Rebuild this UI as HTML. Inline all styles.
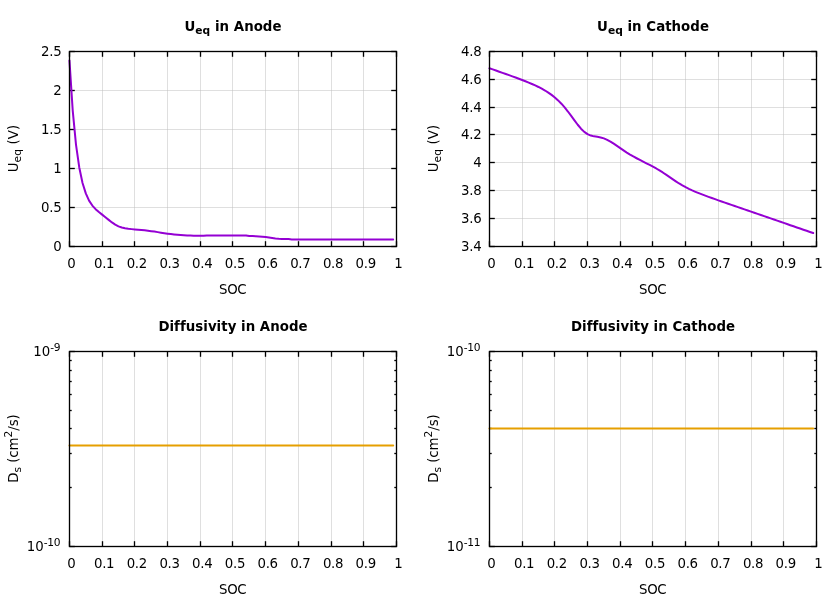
<!DOCTYPE html>
<html><head><meta charset="utf-8"><title>plots</title>
<style>
html,body{margin:0;padding:0;background:#fff;}
svg{display:block;}
text{font-family:"DejaVu Sans", "Liberation Sans", sans-serif;font-size:13.33px;fill:#000;}
.n{letter-spacing:-0.3px;}
.s{letter-spacing:-0.3px;}
.yl{letter-spacing:0.12px;}
.yd{letter-spacing:-0.05px;}
.tt{font-weight:bold;letter-spacing:0.04px;}
.g{stroke:#c0c0c0;stroke-width:1;stroke-opacity:0.5;}
.t{stroke:#000;stroke-width:1.33;}
.b{fill:none;stroke:#000;stroke-width:1.33;}
</style></head><body>
<svg width="840" height="600" viewBox="0 0 840 600">
<rect width="840" height="600" fill="#fff"/>
<line x1="102.50" y1="51.5" x2="102.50" y2="246.5" class="g"/>
<line x1="134.50" y1="51.5" x2="134.50" y2="246.5" class="g"/>
<line x1="167.50" y1="51.5" x2="167.50" y2="246.5" class="g"/>
<line x1="200.50" y1="51.5" x2="200.50" y2="246.5" class="g"/>
<line x1="232.50" y1="51.5" x2="232.50" y2="246.5" class="g"/>
<line x1="265.50" y1="51.5" x2="265.50" y2="246.5" class="g"/>
<line x1="298.50" y1="51.5" x2="298.50" y2="246.5" class="g"/>
<line x1="331.50" y1="51.5" x2="331.50" y2="246.5" class="g"/>
<line x1="363.50" y1="51.5" x2="363.50" y2="246.5" class="g"/>
<line x1="69.5" y1="207.50" x2="396.5" y2="207.50" class="g"/>
<line x1="69.5" y1="168.50" x2="396.5" y2="168.50" class="g"/>
<line x1="69.5" y1="129.50" x2="396.5" y2="129.50" class="g"/>
<line x1="69.5" y1="90.50" x2="396.5" y2="90.50" class="g"/>
<line x1="69.50" y1="246.5" x2="69.50" y2="241.2" class="t"/>
<line x1="69.50" y1="51.5" x2="69.50" y2="56.8" class="t"/>
<text x="71.45" y="268.00" text-anchor="middle" class="n">0</text>
<line x1="102.50" y1="246.5" x2="102.50" y2="241.2" class="t"/>
<line x1="102.50" y1="51.5" x2="102.50" y2="56.8" class="t"/>
<text x="104.15" y="268.00" text-anchor="middle" class="n">0.1</text>
<line x1="134.50" y1="246.5" x2="134.50" y2="241.2" class="t"/>
<line x1="134.50" y1="51.5" x2="134.50" y2="56.8" class="t"/>
<text x="136.85" y="268.00" text-anchor="middle" class="n">0.2</text>
<line x1="167.50" y1="246.5" x2="167.50" y2="241.2" class="t"/>
<line x1="167.50" y1="51.5" x2="167.50" y2="56.8" class="t"/>
<text x="169.55" y="268.00" text-anchor="middle" class="n">0.3</text>
<line x1="200.50" y1="246.5" x2="200.50" y2="241.2" class="t"/>
<line x1="200.50" y1="51.5" x2="200.50" y2="56.8" class="t"/>
<text x="202.25" y="268.00" text-anchor="middle" class="n">0.4</text>
<line x1="232.50" y1="246.5" x2="232.50" y2="241.2" class="t"/>
<line x1="232.50" y1="51.5" x2="232.50" y2="56.8" class="t"/>
<text x="234.95" y="268.00" text-anchor="middle" class="n">0.5</text>
<line x1="265.50" y1="246.5" x2="265.50" y2="241.2" class="t"/>
<line x1="265.50" y1="51.5" x2="265.50" y2="56.8" class="t"/>
<text x="267.65" y="268.00" text-anchor="middle" class="n">0.6</text>
<line x1="298.50" y1="246.5" x2="298.50" y2="241.2" class="t"/>
<line x1="298.50" y1="51.5" x2="298.50" y2="56.8" class="t"/>
<text x="300.35" y="268.00" text-anchor="middle" class="n">0.7</text>
<line x1="331.50" y1="246.5" x2="331.50" y2="241.2" class="t"/>
<line x1="331.50" y1="51.5" x2="331.50" y2="56.8" class="t"/>
<text x="333.05" y="268.00" text-anchor="middle" class="n">0.8</text>
<line x1="363.50" y1="246.5" x2="363.50" y2="241.2" class="t"/>
<line x1="363.50" y1="51.5" x2="363.50" y2="56.8" class="t"/>
<text x="365.75" y="268.00" text-anchor="middle" class="n">0.9</text>
<line x1="396.50" y1="246.5" x2="396.50" y2="241.2" class="t"/>
<line x1="396.50" y1="51.5" x2="396.50" y2="56.8" class="t"/>
<text x="398.45" y="268.00" text-anchor="middle" class="n">1</text>
<line x1="69.5" y1="246.50" x2="74.8" y2="246.50" class="t"/>
<line x1="396.5" y1="246.50" x2="391.2" y2="246.50" class="t"/>
<text x="61.40" y="251.40" text-anchor="end" class="n">0</text>
<line x1="69.5" y1="207.50" x2="74.8" y2="207.50" class="t"/>
<line x1="396.5" y1="207.50" x2="391.2" y2="207.50" class="t"/>
<text x="61.40" y="212.40" text-anchor="end" class="n">0.5</text>
<line x1="69.5" y1="168.50" x2="74.8" y2="168.50" class="t"/>
<line x1="396.5" y1="168.50" x2="391.2" y2="168.50" class="t"/>
<text x="61.40" y="173.40" text-anchor="end" class="n">1</text>
<line x1="69.5" y1="129.50" x2="74.8" y2="129.50" class="t"/>
<line x1="396.5" y1="129.50" x2="391.2" y2="129.50" class="t"/>
<text x="61.40" y="134.40" text-anchor="end" class="n">1.5</text>
<line x1="69.5" y1="90.50" x2="74.8" y2="90.50" class="t"/>
<line x1="396.5" y1="90.50" x2="391.2" y2="90.50" class="t"/>
<text x="61.40" y="95.40" text-anchor="end" class="n">2</text>
<line x1="69.5" y1="51.50" x2="74.8" y2="51.50" class="t"/>
<line x1="396.5" y1="51.50" x2="391.2" y2="51.50" class="t"/>
<text x="61.40" y="56.40" text-anchor="end" class="n">2.5</text>
<text x="233.00" y="31.00" text-anchor="middle" class="tt">U<tspan dy="3" font-size="10.67">eq</tspan><tspan dy="-3"> in Anode</tspan></text>
<text x="232.70" y="293.50" text-anchor="middle" class="s">SOC</text>
<text transform="translate(18.00,148.50) rotate(-90)" text-anchor="middle" class="yl">U<tspan dy="3" font-size="10.67">eq</tspan><tspan dy="-3"> (V)</tspan></text>
<polyline points="69.45,60.43 72.72,110.68 75.99,144.58 79.26,167.47 82.53,182.94 85.80,193.42 89.07,200.58 92.34,205.57 95.61,209.19 98.88,212.07 102.15,214.64 105.42,217.22 108.69,219.87 111.96,222.44 115.23,224.64 118.50,226.32 121.77,227.48 125.04,228.25 128.31,228.76 131.58,229.13 134.85,229.43 138.12,229.70 141.39,230.00 144.66,230.33 147.93,230.71 151.20,231.14 154.47,231.61 157.74,232.12 161.01,232.64 164.28,233.15 167.55,233.64 170.82,234.08 174.09,234.46 177.36,234.78 180.63,235.05 183.90,235.27 187.17,235.43 190.44,235.57 193.71,235.67 196.98,235.74 200.25,235.80 203.52,235.85 206.79,235.50 210.06,235.50 213.33,235.50 216.60,235.50 219.87,235.50 223.14,235.50 226.41,235.50 229.68,235.50 232.95,235.50 236.22,235.50 239.49,235.50 242.76,235.50 246.03,235.50 249.30,236.05 252.57,236.12 255.84,236.23 259.11,236.41 262.38,236.69 265.65,237.09 268.92,237.56 272.19,238.03 275.46,238.43 278.73,238.72 282.00,238.91 285.27,239.02 288.54,239.09 291.81,239.50 295.08,239.50 298.35,239.50 301.62,239.50 304.89,239.50 308.16,239.50 311.43,239.50 314.70,239.50 317.97,239.50 321.24,239.50 324.51,239.50 327.78,239.50 331.05,239.50 334.32,239.50 337.59,239.50 340.86,239.50 344.13,239.50 347.40,239.50 350.67,239.50 353.94,239.50 357.21,239.50 360.48,239.50 363.75,239.50 367.02,239.50 370.29,239.50 373.56,239.50 376.83,239.50 380.10,239.50 383.37,239.50 386.64,239.50 389.91,239.50 393.18,239.50" fill="none" stroke="#9400d3" stroke-width="2" stroke-linejoin="round" stroke-linecap="round"/>
<rect x="69.5" y="51.5" width="327.0" height="195.0" class="b"/>
<line x1="522.50" y1="51.5" x2="522.50" y2="246.5" class="g"/>
<line x1="554.50" y1="51.5" x2="554.50" y2="246.5" class="g"/>
<line x1="587.50" y1="51.5" x2="587.50" y2="246.5" class="g"/>
<line x1="620.50" y1="51.5" x2="620.50" y2="246.5" class="g"/>
<line x1="652.50" y1="51.5" x2="652.50" y2="246.5" class="g"/>
<line x1="685.50" y1="51.5" x2="685.50" y2="246.5" class="g"/>
<line x1="718.50" y1="51.5" x2="718.50" y2="246.5" class="g"/>
<line x1="751.50" y1="51.5" x2="751.50" y2="246.5" class="g"/>
<line x1="783.50" y1="51.5" x2="783.50" y2="246.5" class="g"/>
<line x1="489.5" y1="218.50" x2="816.5" y2="218.50" class="g"/>
<line x1="489.5" y1="190.50" x2="816.5" y2="190.50" class="g"/>
<line x1="489.5" y1="162.50" x2="816.5" y2="162.50" class="g"/>
<line x1="489.5" y1="134.50" x2="816.5" y2="134.50" class="g"/>
<line x1="489.5" y1="107.50" x2="816.5" y2="107.50" class="g"/>
<line x1="489.5" y1="79.50" x2="816.5" y2="79.50" class="g"/>
<line x1="489.50" y1="246.5" x2="489.50" y2="241.2" class="t"/>
<line x1="489.50" y1="51.5" x2="489.50" y2="56.8" class="t"/>
<text x="491.45" y="268.00" text-anchor="middle" class="n">0</text>
<line x1="522.50" y1="246.5" x2="522.50" y2="241.2" class="t"/>
<line x1="522.50" y1="51.5" x2="522.50" y2="56.8" class="t"/>
<text x="524.15" y="268.00" text-anchor="middle" class="n">0.1</text>
<line x1="554.50" y1="246.5" x2="554.50" y2="241.2" class="t"/>
<line x1="554.50" y1="51.5" x2="554.50" y2="56.8" class="t"/>
<text x="556.85" y="268.00" text-anchor="middle" class="n">0.2</text>
<line x1="587.50" y1="246.5" x2="587.50" y2="241.2" class="t"/>
<line x1="587.50" y1="51.5" x2="587.50" y2="56.8" class="t"/>
<text x="589.55" y="268.00" text-anchor="middle" class="n">0.3</text>
<line x1="620.50" y1="246.5" x2="620.50" y2="241.2" class="t"/>
<line x1="620.50" y1="51.5" x2="620.50" y2="56.8" class="t"/>
<text x="622.25" y="268.00" text-anchor="middle" class="n">0.4</text>
<line x1="652.50" y1="246.5" x2="652.50" y2="241.2" class="t"/>
<line x1="652.50" y1="51.5" x2="652.50" y2="56.8" class="t"/>
<text x="654.95" y="268.00" text-anchor="middle" class="n">0.5</text>
<line x1="685.50" y1="246.5" x2="685.50" y2="241.2" class="t"/>
<line x1="685.50" y1="51.5" x2="685.50" y2="56.8" class="t"/>
<text x="687.65" y="268.00" text-anchor="middle" class="n">0.6</text>
<line x1="718.50" y1="246.5" x2="718.50" y2="241.2" class="t"/>
<line x1="718.50" y1="51.5" x2="718.50" y2="56.8" class="t"/>
<text x="720.35" y="268.00" text-anchor="middle" class="n">0.7</text>
<line x1="751.50" y1="246.5" x2="751.50" y2="241.2" class="t"/>
<line x1="751.50" y1="51.5" x2="751.50" y2="56.8" class="t"/>
<text x="753.05" y="268.00" text-anchor="middle" class="n">0.8</text>
<line x1="783.50" y1="246.5" x2="783.50" y2="241.2" class="t"/>
<line x1="783.50" y1="51.5" x2="783.50" y2="56.8" class="t"/>
<text x="785.75" y="268.00" text-anchor="middle" class="n">0.9</text>
<line x1="816.50" y1="246.5" x2="816.50" y2="241.2" class="t"/>
<line x1="816.50" y1="51.5" x2="816.50" y2="56.8" class="t"/>
<text x="818.45" y="268.00" text-anchor="middle" class="n">1</text>
<line x1="489.5" y1="246.50" x2="494.8" y2="246.50" class="t"/>
<line x1="816.5" y1="246.50" x2="811.2" y2="246.50" class="t"/>
<text x="481.40" y="251.40" text-anchor="end" class="n">3.4</text>
<line x1="489.5" y1="218.50" x2="494.8" y2="218.50" class="t"/>
<line x1="816.5" y1="218.50" x2="811.2" y2="218.50" class="t"/>
<text x="481.40" y="223.40" text-anchor="end" class="n">3.6</text>
<line x1="489.5" y1="190.50" x2="494.8" y2="190.50" class="t"/>
<line x1="816.5" y1="190.50" x2="811.2" y2="190.50" class="t"/>
<text x="481.40" y="195.40" text-anchor="end" class="n">3.8</text>
<line x1="489.5" y1="162.50" x2="494.8" y2="162.50" class="t"/>
<line x1="816.5" y1="162.50" x2="811.2" y2="162.50" class="t"/>
<text x="481.40" y="167.40" text-anchor="end" class="n">4</text>
<line x1="489.5" y1="134.50" x2="494.8" y2="134.50" class="t"/>
<line x1="816.5" y1="134.50" x2="811.2" y2="134.50" class="t"/>
<text x="481.40" y="139.40" text-anchor="end" class="n">4.2</text>
<line x1="489.5" y1="107.50" x2="494.8" y2="107.50" class="t"/>
<line x1="816.5" y1="107.50" x2="811.2" y2="107.50" class="t"/>
<text x="481.40" y="112.40" text-anchor="end" class="n">4.4</text>
<line x1="489.5" y1="79.50" x2="494.8" y2="79.50" class="t"/>
<line x1="816.5" y1="79.50" x2="811.2" y2="79.50" class="t"/>
<text x="481.40" y="84.40" text-anchor="end" class="n">4.6</text>
<line x1="489.5" y1="51.50" x2="494.8" y2="51.50" class="t"/>
<line x1="816.5" y1="51.50" x2="811.2" y2="51.50" class="t"/>
<text x="481.40" y="56.40" text-anchor="end" class="n">4.8</text>
<text x="653.00" y="31.00" text-anchor="middle" class="tt">U<tspan dy="3" font-size="10.67">eq</tspan><tspan dy="-3"> in Cathode</tspan></text>
<text x="652.70" y="293.50" text-anchor="middle" class="s">SOC</text>
<text transform="translate(438.00,148.50) rotate(-90)" text-anchor="middle" class="yl">U<tspan dy="3" font-size="10.67">eq</tspan><tspan dy="-3"> (V)</tspan></text>
<polyline points="489.45,68.27 492.72,69.41 495.99,70.55 499.26,71.69 502.53,72.84 505.80,73.99 509.07,75.16 512.34,76.33 515.61,77.52 518.88,78.74 522.15,79.98 525.42,81.25 528.69,82.57 531.96,83.96 535.23,85.42 538.50,86.98 541.77,88.67 545.04,90.52 548.31,92.57 551.58,94.86 554.85,97.46 558.12,100.39 561.39,103.71 564.66,107.43 567.93,111.52 571.20,115.90 574.47,120.39 577.74,124.76 581.01,128.69 584.28,131.88 587.55,134.17 590.82,135.58 594.09,136.35 597.36,136.84 600.63,137.45 603.90,138.40 607.17,139.80 610.44,141.60 613.71,143.69 616.98,145.92 620.25,148.19 623.52,150.41 626.79,152.54 630.06,154.55 633.33,156.45 636.60,158.25 639.87,159.97 643.14,161.64 646.41,163.29 649.68,164.96 652.95,166.68 656.22,168.49 659.49,170.42 662.76,172.47 666.03,174.64 669.30,176.89 672.57,179.16 675.84,181.37 679.11,183.48 682.38,185.43 685.65,187.23 688.92,188.87 692.19,190.39 695.46,191.80 698.73,193.13 702.00,194.41 705.27,195.64 708.54,196.84 711.81,198.02 715.08,199.18 718.35,200.33 721.62,201.47 724.89,202.61 728.16,203.75 731.43,204.88 734.70,206.01 737.97,207.14 741.24,208.27 744.51,209.40 747.78,210.53 751.05,211.65 754.32,212.78 757.59,213.91 760.86,215.03 764.13,216.16 767.40,217.29 770.67,218.41 773.94,219.54 777.21,220.67 780.48,221.80 783.75,222.92 787.02,224.05 790.29,225.18 793.56,226.30 796.83,227.43 800.10,228.56 803.37,229.68 806.64,230.81 809.91,231.94 813.18,233.06" fill="none" stroke="#9400d3" stroke-width="2" stroke-linejoin="round" stroke-linecap="round"/>
<rect x="489.5" y="51.5" width="327.0" height="195.0" class="b"/>
<line x1="102.50" y1="351.5" x2="102.50" y2="546.5" class="g"/>
<line x1="134.50" y1="351.5" x2="134.50" y2="546.5" class="g"/>
<line x1="167.50" y1="351.5" x2="167.50" y2="546.5" class="g"/>
<line x1="200.50" y1="351.5" x2="200.50" y2="546.5" class="g"/>
<line x1="232.50" y1="351.5" x2="232.50" y2="546.5" class="g"/>
<line x1="265.50" y1="351.5" x2="265.50" y2="546.5" class="g"/>
<line x1="298.50" y1="351.5" x2="298.50" y2="546.5" class="g"/>
<line x1="331.50" y1="351.5" x2="331.50" y2="546.5" class="g"/>
<line x1="363.50" y1="351.5" x2="363.50" y2="546.5" class="g"/>
<line x1="69.50" y1="546.5" x2="69.50" y2="541.2" class="t"/>
<line x1="69.50" y1="351.5" x2="69.50" y2="356.8" class="t"/>
<text x="71.45" y="568.00" text-anchor="middle" class="n">0</text>
<line x1="102.50" y1="546.5" x2="102.50" y2="541.2" class="t"/>
<line x1="102.50" y1="351.5" x2="102.50" y2="356.8" class="t"/>
<text x="104.15" y="568.00" text-anchor="middle" class="n">0.1</text>
<line x1="134.50" y1="546.5" x2="134.50" y2="541.2" class="t"/>
<line x1="134.50" y1="351.5" x2="134.50" y2="356.8" class="t"/>
<text x="136.85" y="568.00" text-anchor="middle" class="n">0.2</text>
<line x1="167.50" y1="546.5" x2="167.50" y2="541.2" class="t"/>
<line x1="167.50" y1="351.5" x2="167.50" y2="356.8" class="t"/>
<text x="169.55" y="568.00" text-anchor="middle" class="n">0.3</text>
<line x1="200.50" y1="546.5" x2="200.50" y2="541.2" class="t"/>
<line x1="200.50" y1="351.5" x2="200.50" y2="356.8" class="t"/>
<text x="202.25" y="568.00" text-anchor="middle" class="n">0.4</text>
<line x1="232.50" y1="546.5" x2="232.50" y2="541.2" class="t"/>
<line x1="232.50" y1="351.5" x2="232.50" y2="356.8" class="t"/>
<text x="234.95" y="568.00" text-anchor="middle" class="n">0.5</text>
<line x1="265.50" y1="546.5" x2="265.50" y2="541.2" class="t"/>
<line x1="265.50" y1="351.5" x2="265.50" y2="356.8" class="t"/>
<text x="267.65" y="568.00" text-anchor="middle" class="n">0.6</text>
<line x1="298.50" y1="546.5" x2="298.50" y2="541.2" class="t"/>
<line x1="298.50" y1="351.5" x2="298.50" y2="356.8" class="t"/>
<text x="300.35" y="568.00" text-anchor="middle" class="n">0.7</text>
<line x1="331.50" y1="546.5" x2="331.50" y2="541.2" class="t"/>
<line x1="331.50" y1="351.5" x2="331.50" y2="356.8" class="t"/>
<text x="333.05" y="568.00" text-anchor="middle" class="n">0.8</text>
<line x1="363.50" y1="546.5" x2="363.50" y2="541.2" class="t"/>
<line x1="363.50" y1="351.5" x2="363.50" y2="356.8" class="t"/>
<text x="365.75" y="568.00" text-anchor="middle" class="n">0.9</text>
<line x1="396.50" y1="546.5" x2="396.50" y2="541.2" class="t"/>
<line x1="396.50" y1="351.5" x2="396.50" y2="356.8" class="t"/>
<text x="398.45" y="568.00" text-anchor="middle" class="n">1</text>
<line x1="69.5" y1="487.50" x2="71.7" y2="487.50" class="t"/>
<line x1="396.5" y1="487.50" x2="394.3" y2="487.50" class="t"/>
<line x1="69.5" y1="453.50" x2="71.7" y2="453.50" class="t"/>
<line x1="396.5" y1="453.50" x2="394.3" y2="453.50" class="t"/>
<line x1="69.5" y1="428.50" x2="71.7" y2="428.50" class="t"/>
<line x1="396.5" y1="428.50" x2="394.3" y2="428.50" class="t"/>
<line x1="69.5" y1="410.50" x2="71.7" y2="410.50" class="t"/>
<line x1="396.5" y1="410.50" x2="394.3" y2="410.50" class="t"/>
<line x1="69.5" y1="394.50" x2="71.7" y2="394.50" class="t"/>
<line x1="396.5" y1="394.50" x2="394.3" y2="394.50" class="t"/>
<line x1="69.5" y1="381.50" x2="71.7" y2="381.50" class="t"/>
<line x1="396.5" y1="381.50" x2="394.3" y2="381.50" class="t"/>
<line x1="69.5" y1="370.50" x2="71.7" y2="370.50" class="t"/>
<line x1="396.5" y1="370.50" x2="394.3" y2="370.50" class="t"/>
<line x1="69.5" y1="360.50" x2="71.7" y2="360.50" class="t"/>
<line x1="396.5" y1="360.50" x2="394.3" y2="360.50" class="t"/>
<line x1="69.5" y1="351.50" x2="74.8" y2="351.50" class="t"/>
<line x1="396.5" y1="351.50" x2="391.2" y2="351.50" class="t"/>
<text x="60.40" y="356.40" text-anchor="end">10<tspan dy="-5.3" font-size="10.67" letter-spacing="-0.25">-9</tspan></text>
<line x1="69.5" y1="546.50" x2="74.8" y2="546.50" class="t"/>
<line x1="396.5" y1="546.50" x2="391.2" y2="546.50" class="t"/>
<text x="60.40" y="551.40" text-anchor="end">10<tspan dy="-5.3" font-size="10.67" letter-spacing="-0.25">-10</tspan></text>
<text x="233.00" y="331.00" text-anchor="middle" class="tt">Diffusivity in Anode</text>
<text x="232.70" y="593.50" text-anchor="middle" class="s">SOC</text>
<text transform="translate(18.00,448.50) rotate(-90)" text-anchor="middle" class="yd">D<tspan dy="3" font-size="10.67">s</tspan><tspan dy="-3"> (cm</tspan><tspan dy="-5.8" font-size="10.67">2</tspan><tspan dy="5.8">/s)</tspan></text>
<line x1="69.45" y1="445.50" x2="393.18" y2="445.50" stroke="#e69f00" stroke-width="2" stroke-linecap="round"/>
<rect x="69.5" y="351.5" width="327.0" height="195.0" class="b"/>
<line x1="522.50" y1="351.5" x2="522.50" y2="546.5" class="g"/>
<line x1="554.50" y1="351.5" x2="554.50" y2="546.5" class="g"/>
<line x1="587.50" y1="351.5" x2="587.50" y2="546.5" class="g"/>
<line x1="620.50" y1="351.5" x2="620.50" y2="546.5" class="g"/>
<line x1="652.50" y1="351.5" x2="652.50" y2="546.5" class="g"/>
<line x1="685.50" y1="351.5" x2="685.50" y2="546.5" class="g"/>
<line x1="718.50" y1="351.5" x2="718.50" y2="546.5" class="g"/>
<line x1="751.50" y1="351.5" x2="751.50" y2="546.5" class="g"/>
<line x1="783.50" y1="351.5" x2="783.50" y2="546.5" class="g"/>
<line x1="489.50" y1="546.5" x2="489.50" y2="541.2" class="t"/>
<line x1="489.50" y1="351.5" x2="489.50" y2="356.8" class="t"/>
<text x="491.45" y="568.00" text-anchor="middle" class="n">0</text>
<line x1="522.50" y1="546.5" x2="522.50" y2="541.2" class="t"/>
<line x1="522.50" y1="351.5" x2="522.50" y2="356.8" class="t"/>
<text x="524.15" y="568.00" text-anchor="middle" class="n">0.1</text>
<line x1="554.50" y1="546.5" x2="554.50" y2="541.2" class="t"/>
<line x1="554.50" y1="351.5" x2="554.50" y2="356.8" class="t"/>
<text x="556.85" y="568.00" text-anchor="middle" class="n">0.2</text>
<line x1="587.50" y1="546.5" x2="587.50" y2="541.2" class="t"/>
<line x1="587.50" y1="351.5" x2="587.50" y2="356.8" class="t"/>
<text x="589.55" y="568.00" text-anchor="middle" class="n">0.3</text>
<line x1="620.50" y1="546.5" x2="620.50" y2="541.2" class="t"/>
<line x1="620.50" y1="351.5" x2="620.50" y2="356.8" class="t"/>
<text x="622.25" y="568.00" text-anchor="middle" class="n">0.4</text>
<line x1="652.50" y1="546.5" x2="652.50" y2="541.2" class="t"/>
<line x1="652.50" y1="351.5" x2="652.50" y2="356.8" class="t"/>
<text x="654.95" y="568.00" text-anchor="middle" class="n">0.5</text>
<line x1="685.50" y1="546.5" x2="685.50" y2="541.2" class="t"/>
<line x1="685.50" y1="351.5" x2="685.50" y2="356.8" class="t"/>
<text x="687.65" y="568.00" text-anchor="middle" class="n">0.6</text>
<line x1="718.50" y1="546.5" x2="718.50" y2="541.2" class="t"/>
<line x1="718.50" y1="351.5" x2="718.50" y2="356.8" class="t"/>
<text x="720.35" y="568.00" text-anchor="middle" class="n">0.7</text>
<line x1="751.50" y1="546.5" x2="751.50" y2="541.2" class="t"/>
<line x1="751.50" y1="351.5" x2="751.50" y2="356.8" class="t"/>
<text x="753.05" y="568.00" text-anchor="middle" class="n">0.8</text>
<line x1="783.50" y1="546.5" x2="783.50" y2="541.2" class="t"/>
<line x1="783.50" y1="351.5" x2="783.50" y2="356.8" class="t"/>
<text x="785.75" y="568.00" text-anchor="middle" class="n">0.9</text>
<line x1="816.50" y1="546.5" x2="816.50" y2="541.2" class="t"/>
<line x1="816.50" y1="351.5" x2="816.50" y2="356.8" class="t"/>
<text x="818.45" y="568.00" text-anchor="middle" class="n">1</text>
<line x1="489.5" y1="487.50" x2="491.7" y2="487.50" class="t"/>
<line x1="816.5" y1="487.50" x2="814.3" y2="487.50" class="t"/>
<line x1="489.5" y1="453.50" x2="491.7" y2="453.50" class="t"/>
<line x1="816.5" y1="453.50" x2="814.3" y2="453.50" class="t"/>
<line x1="489.5" y1="428.50" x2="491.7" y2="428.50" class="t"/>
<line x1="816.5" y1="428.50" x2="814.3" y2="428.50" class="t"/>
<line x1="489.5" y1="410.50" x2="491.7" y2="410.50" class="t"/>
<line x1="816.5" y1="410.50" x2="814.3" y2="410.50" class="t"/>
<line x1="489.5" y1="394.50" x2="491.7" y2="394.50" class="t"/>
<line x1="816.5" y1="394.50" x2="814.3" y2="394.50" class="t"/>
<line x1="489.5" y1="381.50" x2="491.7" y2="381.50" class="t"/>
<line x1="816.5" y1="381.50" x2="814.3" y2="381.50" class="t"/>
<line x1="489.5" y1="370.50" x2="491.7" y2="370.50" class="t"/>
<line x1="816.5" y1="370.50" x2="814.3" y2="370.50" class="t"/>
<line x1="489.5" y1="360.50" x2="491.7" y2="360.50" class="t"/>
<line x1="816.5" y1="360.50" x2="814.3" y2="360.50" class="t"/>
<line x1="489.5" y1="351.50" x2="494.8" y2="351.50" class="t"/>
<line x1="816.5" y1="351.50" x2="811.2" y2="351.50" class="t"/>
<text x="480.40" y="356.40" text-anchor="end">10<tspan dy="-5.3" font-size="10.67" letter-spacing="-0.25">-10</tspan></text>
<line x1="489.5" y1="546.50" x2="494.8" y2="546.50" class="t"/>
<line x1="816.5" y1="546.50" x2="811.2" y2="546.50" class="t"/>
<text x="480.40" y="551.40" text-anchor="end">10<tspan dy="-5.3" font-size="10.67" letter-spacing="-0.25">-11</tspan></text>
<text x="653.00" y="331.00" text-anchor="middle" class="tt">Diffusivity in Cathode</text>
<text x="652.70" y="593.50" text-anchor="middle" class="s">SOC</text>
<text transform="translate(438.00,448.50) rotate(-90)" text-anchor="middle" class="yd">D<tspan dy="3" font-size="10.67">s</tspan><tspan dy="-3"> (cm</tspan><tspan dy="-5.8" font-size="10.67">2</tspan><tspan dy="5.8">/s)</tspan></text>
<line x1="489.45" y1="428.50" x2="813.18" y2="428.50" stroke="#e69f00" stroke-width="2" stroke-linecap="round"/>
<rect x="489.5" y="351.5" width="327.0" height="195.0" class="b"/>
</svg>
</body></html>
